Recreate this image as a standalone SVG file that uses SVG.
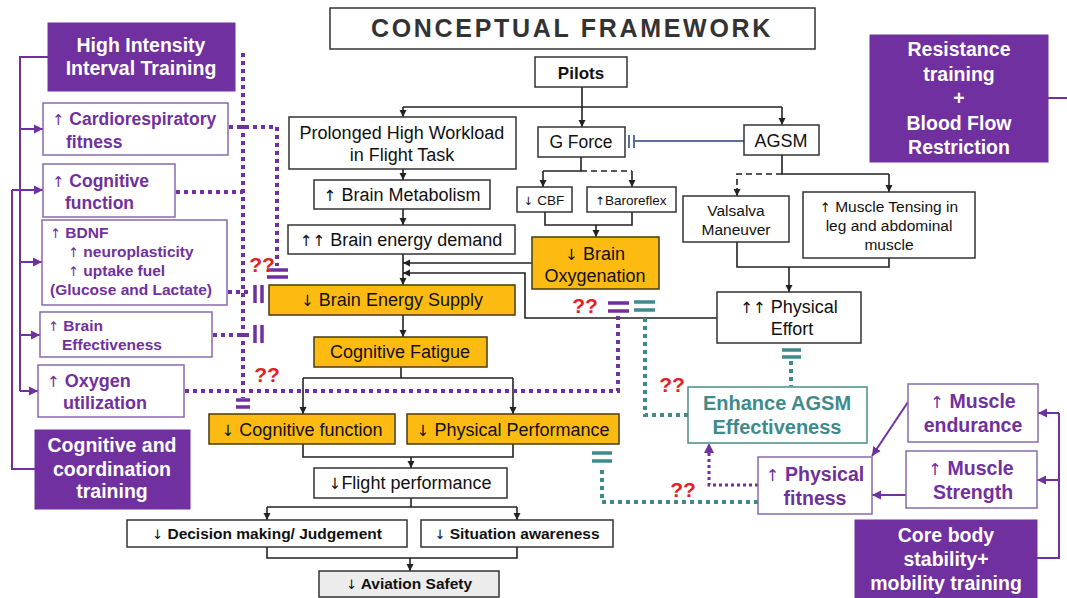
<svg xmlns="http://www.w3.org/2000/svg" width="1067" height="598" viewBox="0 0 1067 598">
<defs>
<style>
text{font-family:"Liberation Sans",Arial,sans-serif;text-anchor:middle}
.ar{font-family:"DejaVu Sans",sans-serif;font-weight:normal;font-size:0.85em}
.bx{fill:#fff;stroke:#333;stroke-width:1.5}
.or{fill:#FDBB12;stroke:#4a3a12;stroke-width:1.5}
.pf{fill:#7030A0;stroke:#7030A0;stroke-width:1}
.pb{fill:#fff;stroke:#8a6aae;stroke-width:1.5}
.tb{fill:#fff;stroke:#4a8c8c;stroke-width:1.5}
.t{fill:#111;font-size:18px}
.tb17{fill:#111;font-size:17px;font-weight:bold}
.w{fill:#fff;font-size:19.5px;font-weight:bold}
.p{fill:#7030A0;font-weight:bold;text-anchor:start}
.pc{fill:#7030A0;font-weight:bold;font-size:19.5px}
.tc{fill:#3f8a8a;font-weight:bold;font-size:20px}
.q{fill:#e01f26;font-size:21px;font-weight:bold}
.ln{fill:none;stroke:#222;stroke-width:1.6}
.da{fill:none;stroke:#222;stroke-width:1.6;stroke-dasharray:6 4}
.pl{fill:none;stroke:#7030A0;stroke-width:2}
.pd{fill:none;stroke:#7030A0;stroke-width:4;stroke-dasharray:4 4}
.td{fill:none;stroke:#3f8a8a;stroke-width:4;stroke-dasharray:4 4}
.pbar{stroke:#7030A0;stroke-width:3.5}
.tbar{stroke:#3f8a8a;stroke-width:3.5}
</style>
<marker id="a" markerUnits="userSpaceOnUse" markerWidth="8" markerHeight="8" refX="7" refY="4" orient="auto"><path d="M0,0.5 L7,4 L0,7.5 z" fill="#222"/></marker>
<marker id="ap" markerUnits="userSpaceOnUse" markerWidth="10" markerHeight="10" refX="9" refY="5" orient="auto"><path d="M0,0.5 L9,5 L0,9.5 z" fill="#7030A0"/></marker>
</defs>

<g id="title"><rect x="330" y="8" width="485" height="41" class="bx" stroke-width="2"/><text x="572" y="37" style="font-size:25px;font-weight:bold;letter-spacing:2.7px;fill:#333">CONCEPTUAL FRAMEWORK</text></g>

<g id="connectors">
<path class="ln" d="M582,87 V107 M403,107 H782"/>
<path class="ln" marker-end="url(#a)" d="M582,107 V127"/>
<path class="ln" marker-end="url(#a)" d="M403,107 V117"/>
<path class="ln" marker-end="url(#a)" d="M782,107 V125"/>
<path class="ln" marker-end="url(#a)" d="M403,169 V180"/>
<path class="ln" marker-end="url(#a)" d="M403,209 V225"/>
<path class="ln" marker-end="url(#a)" d="M403,254 V285"/>
<path class="ln" marker-end="url(#a)" d="M532,263 H403"/>
<path class="ln" marker-end="url(#a)" d="M717,318 H525 V273 H403"/>
<path class="ln" marker-end="url(#a)" d="M403,315 V337"/>
<path class="ln" d="M401,367 V378 M303,378 H513"/>
<path class="ln" marker-end="url(#a)" d="M303,378 V414"/>
<path class="ln" marker-end="url(#a)" d="M513,378 V414"/>
<path class="ln" d="M303,444 V457 H513 V444"/>
<path class="ln" marker-end="url(#a)" d="M411,457 V468"/>
<path class="ln" d="M411,498 V507 M267,507 H517"/>
<path class="ln" marker-end="url(#a)" d="M267,507 V520"/>
<path class="ln" marker-end="url(#a)" d="M517,507 V520"/>
<path class="ln" d="M267,547 V558 H517 V547"/>
<path class="ln" marker-end="url(#a)" d="M410,558 V571"/>
<path class="ln" d="M581,157 V171 H543"/>
<path class="ln" marker-end="url(#a)" d="M543,171 V187"/>
<path class="da" d="M581,171 H632"/>
<path class="ln" marker-end="url(#a)" d="M632,171 V187"/>
<path class="ln" d="M545,212 V225 H632 V212"/>
<path class="ln" marker-end="url(#a)" d="M596,225 V237"/>
<path fill="none" stroke="#5b6f9c" stroke-width="1.8" d="M744,141 H634"/>
<path stroke="#5b6f9c" stroke-width="2" d="M629,135 V148 M634,135 V148"/>
<path class="ln" d="M782,155 V174 H889"/>
<path class="ln" marker-end="url(#a)" d="M889,174 V192"/>
<path class="da" d="M782,174 H737 V188"/>
<path class="ln" marker-end="url(#a)" d="M737,188 V196"/>
<path class="ln" d="M737,242 V267 H889 V258"/>
<path class="ln" marker-end="url(#a)" d="M789,267 V292"/>
<path class="pl" d="M48,57 H20 V391 M35,469 H12 V190"/>
<path class="pl" marker-end="url(#ap)" d="M20,129 H43"/>
<path class="pl" marker-end="url(#ap)" d="M20,262 H42"/>
<path class="pl" marker-end="url(#ap)" d="M20,335 H40"/>
<path class="pl" marker-end="url(#ap)" d="M20,391 H38"/>
<path class="pl" marker-end="url(#ap)" d="M12,190 H43"/>
<path class="pd" d="M243,53 V398"/>
<path class="pbar" d="M236,400 H250 M236,407 H250"/>
<path class="pd" d="M229,127 H277 V266"/>
<path class="pbar" d="M267,270 H288 M267,277 H288"/>
<path class="pd" d="M176,192 H243"/>
<path class="pd" d="M228,292 H250"/>
<path class="pbar" d="M255,285 V303 M262,285 V303"/>
<path class="pd" d="M213,335 H250"/>
<path class="pbar" d="M255,325 V343 M262,325 V343"/>
<path class="pd" d="M185,391 H618 V316"/>
<path class="pbar" d="M608,303 H629 M608,311 H629"/>
<path class="tbar" d="M782,350 H801 M782,357 H801"/>
<path class="td" d="M791,361 V386"/>
<path class="td" d="M688,415 H645 V316"/>
<path class="tbar" d="M634,302 H655 M634,310 H655"/>
<path class="td" d="M758,502 H602 V466"/>
<path class="tbar" d="M592,453 H612 M592,461 H612"/>
<path fill="none" stroke="#7030A0" stroke-width="3" stroke-dasharray="3 3" d="M758,485 H709 V452"/>
<path fill="#7030A0" d="M709,443 L704,453 L714,453 z"/>
<path class="pl" marker-end="url(#ap)" d="M908,402 L872,456"/>
<path class="pl" marker-end="url(#ap)" d="M906,495 H872"/>
<path class="pl" d="M1037,558 H1059 V413"/>
<path class="pl" marker-end="url(#ap)" d="M1059,413 H1038"/>
<path class="pl" marker-end="url(#ap)" d="M1059,480 H1037"/>
<path class="pl" d="M1048,98 H1067"/>
<text class="q" x="262" y="272">??</text>
<text class="q" x="267" y="382">??</text>
<text class="q" x="585" y="313">??</text>
<text class="q" x="672" y="392">??</text>
<text class="q" x="683" y="497">??</text>
</g>

<g id="pilots"><rect x="535" y="57" width="92" height="30" class="bx"/><text x="581" y="79" class="tb17">Pilots</text></g>
<g id="prolonged"><rect x="289" y="117" width="227" height="52" class="bx"/><text x="402" y="139" class="t">Prolonged High Workload</text><text x="402" y="161" class="t">in Flight Task</text></g>
<g id="gforce"><rect x="538" y="127" width="87" height="30" class="bx"/><text x="581" y="148" class="t" style="font-size:17.5px">G Force</text></g>
<g id="agsm"><rect x="744" y="125" width="75" height="30" class="bx"/><text x="781" y="147" class="t">AGSM</text></g>
<g id="metabolism"><rect x="314" y="180" width="176" height="29" class="bx"/><text x="402" y="201" class="t"><tspan class="ar">↑</tspan> Brain Metabolism</text></g>
<g id="demand"><rect x="288" y="225" width="227" height="29" class="bx"/><text x="401" y="246" class="t"><tspan class="ar">↑↑</tspan> Brain energy demand</text></g>
<g id="cbf"><rect x="517" y="187" width="55" height="25" class="bx"/><text x="544" y="205" class="t" style="font-size:13.5px"><tspan class="ar">↓</tspan> CBF</text></g>
<g id="baroreflex"><rect x="587" y="187" width="89" height="25" class="bx"/><text x="631" y="205" class="t" style="font-size:13.5px"><tspan class="ar">↑</tspan>Baroreflex</text></g>
<g id="oxygenation"><rect x="532" y="237" width="127" height="52" class="or"/><text x="595" y="260" class="t"><tspan class="ar">↓</tspan> Brain</text><text x="595" y="282" class="t">Oxygenation</text></g>
<g id="supply"><rect x="269" y="285" width="246" height="30" class="or"/><text x="392" y="306" class="t"><tspan class="ar">↓</tspan> Brain Energy Supply</text></g>
<g id="fatigue"><rect x="314" y="337" width="173" height="30" class="or"/><text x="400" y="358" class="t">Cognitive Fatigue</text></g>
<g id="valsalva"><rect x="683" y="196" width="106" height="46" class="bx"/><text x="736" y="216" class="t" style="font-size:15.5px">Valsalva</text><text x="736" y="235" class="t" style="font-size:15.5px">Maneuver</text></g>
<g id="tensing"><rect x="803" y="192" width="172" height="66" class="bx"/><text x="889" y="212" class="t" style="font-size:15.5px"><tspan class="ar">↑</tspan>  Muscle Tensing in</text><text x="889" y="231" class="t" style="font-size:15.5px">leg and abdominal</text><text x="889" y="250" class="t" style="font-size:15.5px">muscle</text></g>
<g id="effort"><rect x="717" y="292" width="144" height="51" class="bx"/><text x="789" y="313" class="t"><tspan class="ar">↑↑</tspan> Physical</text><text x="792" y="335" class="t">Effort</text></g>
<g id="cogfunc"><rect x="209" y="414" width="186" height="30" class="or"/><text x="302" y="436" class="t"><tspan class="ar">↓</tspan> Cognitive function</text></g>
<g id="physperf"><rect x="407" y="414" width="212" height="30" class="or"/><text x="513" y="436" class="t"><tspan class="ar">↓</tspan> Physical Performance</text></g>
<g id="flight"><rect x="314" y="468" width="193" height="30" class="bx"/><text x="410" y="489" class="t"><tspan class="ar">↓</tspan>Flight performance</text></g>
<g id="decision"><rect x="127" y="520" width="280" height="27" class="bx"/><text x="267" y="539" class="tb17" style="font-size:15.5px"><tspan class="ar">↓</tspan> Decision making/ Judgement</text></g>
<g id="situation"><rect x="421" y="520" width="192" height="27" class="bx"/><text x="517" y="539" class="tb17" style="font-size:15.5px"><tspan class="ar">↓</tspan> Situation awareness</text></g>
<g id="safety"><rect x="319" y="571" width="180" height="26" class="bx" style="fill:#ececec"/><text x="409" y="589" class="tb17" style="font-size:15.5px"><tspan class="ar">↓</tspan> Aviation Safety</text></g>

<g id="hiit"><rect x="48" y="23" width="187" height="68" class="pf"/><text x="141" y="52" class="w">High Intensity</text><text x="141" y="75" class="w">Interval Training</text></g>
<g id="cardio"><rect x="43" y="103" width="185" height="52" class="pb"/><text x="52" y="125" class="p" style="font-size:17.5px"><tspan class="ar">↑</tspan> Cardiorespiratory</text><text x="66" y="148" class="p" style="font-size:17.5px">fitness</text></g>
<g id="cognitive"><rect x="43" y="164" width="132" height="53" class="pb"/><text x="52" y="187" class="p" style="font-size:17.5px"><tspan class="ar">↑</tspan> Cognitive</text><text x="65" y="209" class="p" style="font-size:17.5px">function</text></g>
<g id="bdnf"><rect x="42" y="220" width="185" height="85" class="pb"/><text x="50" y="238" class="p" style="font-size:15.5px"><tspan class="ar">↑</tspan> BDNF</text><text x="68" y="257" class="p" style="font-size:15.5px"><tspan class="ar">↑</tspan> neuroplasticity</text><text x="68" y="276" class="p" style="font-size:15.5px"><tspan class="ar">↑</tspan> uptake fuel</text><text x="50" y="295" class="p" style="font-size:15.5px">(Glucose and Lactate)</text></g>
<g id="braineff"><rect x="40" y="312" width="172" height="45" class="pb"/><text x="48" y="331" class="p" style="font-size:15.5px"><tspan class="ar">↑</tspan> Brain</text><text x="62" y="350" class="p" style="font-size:15.5px">Effectiveness</text></g>
<g id="oxygen"><rect x="38" y="365" width="146" height="52" class="pb"/><text x="47" y="387" class="p" style="font-size:18px"><tspan class="ar">↑</tspan> Oxygen</text><text x="63" y="409" class="p" style="font-size:18px">utilization</text></g>
<g id="cct"><rect x="35" y="430" width="155" height="79" class="pf"/><text x="112" y="452" class="w">Cognitive and</text><text x="112" y="476" class="w">coordination</text><text x="112" y="498" class="w">training</text></g>

<g id="resistance"><rect x="870" y="35" width="178" height="127" class="pf"/><text x="959" y="56" class="w">Resistance</text><text x="959" y="81" class="w">training</text><text x="959" y="105" class="w">+</text><text x="959" y="130" class="w">Blood Flow</text><text x="959" y="154" class="w">Restriction</text></g>
<g id="enhance"><rect x="688" y="387" width="179" height="56" class="tb"/><text x="777" y="410" class="tc">Enhance AGSM</text><text x="777" y="434" class="tc">Effectiveness</text></g>
<g id="physfit"><rect x="758" y="457" width="114" height="57" class="pb"/><text x="815" y="481" class="pc"><tspan class="ar">↑</tspan> Physical</text><text x="815" y="505" class="pc">fitness</text></g>
<g id="endurance"><rect x="908" y="384" width="130" height="58" class="pb"/><text x="973" y="408" class="pc"><tspan class="ar">↑</tspan> Muscle</text><text x="973" y="432" class="pc">endurance</text></g>
<g id="strength"><rect x="906" y="451" width="131" height="57" class="pb"/><text x="971" y="475" class="pc"><tspan class="ar">↑</tspan> Muscle</text><text x="973" y="499" class="pc">Strength</text></g>
<g id="core"><rect x="855" y="520" width="182" height="78" class="pf"/><text x="946" y="542" class="w">Core body</text><text x="946" y="566" class="w">stability+</text><text x="946" y="590" class="w">mobility training</text></g>
</svg>
